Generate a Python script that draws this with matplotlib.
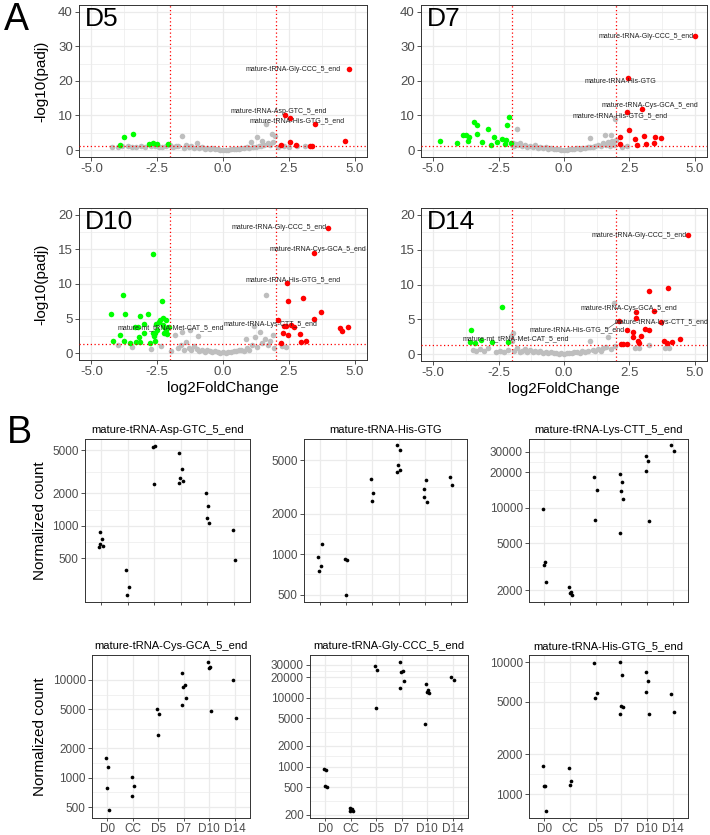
"""
Panel A: volcano plots (D5, D7, D10, D14)
Panel B: normalized counts of selected tRNA fragments per time point
"""
import matplotlib
matplotlib.use("Agg")
import matplotlib.pyplot as plt
import numpy as np

plt.rcParams["font.family"] = ["Liberation Sans", "DejaVu Sans"]
plt.rcParams["axes.unicode_minus"] = False

W, H = 710, 835

# ---------------- panel A data (log2FoldChange, -log10(padj)) ----------------
D5_GREY = [(-4.2, 1.0), (-4.0, 0.9), (-3.85, 1.2), (-3.6, 1.1), (-3.45, 0.8), (-3.3, 1.0),
           (-3.1, 1.2), (-2.95, 0.9), (-2.75, 1.1), (-2.6, 1.3), (-2.45, 1.0), (-2.3, 0.8),
           (-2.15, 1.1), (-2.0, 1.4), (-1.9, 1.0), (-1.8, 1.3), (-1.7, 1.1), (-1.56, 4.0),
           (-1.5, 0.7), (-1.4, 1.6), (-1.3, 0.9), (-1.2, 1.1), (-1.1, 0.6), (-1.0, 1.9),
           (-0.9, 0.5), (-0.8, 0.8), (-0.7, 0.4), (-0.6, 0.6), (-0.5, 0.3), (-0.4, 0.5),
           (-0.3, 0.2), (-0.2, 0.3), (-0.1, 0.1), (0.0, 0.05), (0.1, 0.15), (0.2, 0.1),
           (0.3, 0.3), (0.4, 0.2), (0.5, 0.4), (0.6, 0.3), (0.7, 0.6), (0.8, 0.5),
           (0.9, 0.8), (1.0, 0.7), (1.08, 2.4), (1.15, 1.0), (1.25, 0.9), (1.29, 3.8),
           (1.35, 1.3), (1.45, 1.1), (1.48, 2.7), (1.55, 1.6), (1.65, 7.4), (1.7, 2.0),
           (1.8, 1.4), (1.86, 4.5), (1.9, 2.2), (1.96, 4.1), (2.1, 0.9), (2.3, 1.2),
           (2.5, 0.8), (2.8, 1.1), (3.1, 1.2)]
D5_GREEN = [(-3.92, 1.44), (-3.76, 3.84), (-3.43, 4.7), (-2.81, 1.82), (-2.67, 1.92),
            (-2.52, 1.82), (-2.10, 1.82)]
D5_RED = [(4.78, 23.3), (2.37, 10.1), (2.56, 9.4), (3.48, 7.4), (4.65, 2.6), (2.56, 2.4),
          (2.20, 1.6), (2.77, 1.4), (3.32, 1.3), (3.38, 1.25)]
D5_LABELS = [("mature-tRNA-Gly-CCC_5_end", 2.68, 23.3),
             ("mature-tRNA-Asp-GTC_5_end", 2.10, 11.0),
             ("mature-tRNA-His-GTG_5_end", 2.81, 8.35)]

D7_GREY = [(-2.0, 1.5), (-1.95, 2.1), (-1.9, 1.2), (-1.85, 1.8), (-1.78, 6.1), (-1.75, 1.4),
           (-1.7, 2.0), (-1.6, 1.1), (-1.5, 1.6), (-1.4, 0.9), (-1.3, 1.3), (-1.2, 0.8),
           (-1.1, 1.4), (-1.0, 0.7), (-0.9, 1.0), (-0.8, 0.5), (-0.7, 0.8), (-0.6, 0.4),
           (-0.5, 0.6), (-0.4, 0.3), (-0.3, 0.2), (-0.2, 0.35), (-0.1, 0.1), (0.0, 0.15),
           (0.1, 0.05), (0.2, 0.2), (0.3, 0.3), (0.4, 0.25), (0.5, 0.5), (0.6, 0.4),
           (0.7, 0.7), (0.8, 0.6), (0.9, 0.9), (0.99, 3.4), (1.0, 1.0), (1.1, 0.8),
           (1.2, 1.2), (1.3, 1.4), (1.4, 1.1), (1.5, 2.0), (1.55, 4.3), (1.6, 1.6),
           (1.7, 2.3), (1.75, 1.2), (1.81, 4.3), (1.85, 2.6), (1.9, 1.5), (1.94, 9.1),
           (1.97, 3.0), (2.2, 0.9), (2.4, 1.1)]
D7_GREEN = [(-4.74, 2.69), (-4.10, 1.92), (-3.86, 4.32), (-3.73, 4.41), (-3.64, 3.65),
            (-3.67, 2.49), (-3.43, 8.25), (-3.32, 7.29), (-3.32, 4.51), (-3.15, 2.21),
            (-2.90, 6.04), (-2.78, 1.53), (-2.68, 3.65), (-2.57, 2.40), (-2.36, 3.26),
            (-2.23, 2.88), (-2.25, 1.73), (-2.17, 7.10), (-2.11, 9.69), (-2.04, 1.92)]
D7_RED = [(5.0, 32.9), (2.45, 20.9), (2.98, 11.9), (2.41, 11.0), (2.47, 5.76), (2.14, 3.65),
          (2.73, 3.17), (3.06, 4.03), (3.49, 3.84), (3.72, 3.55), (2.14, 1.73), (2.80, 1.53),
          (3.15, 1.63), (3.43, 1.92)]
D7_LABELS = [("mature-tRNA-Gly-CCC_5_end", 3.15, 32.8),
             ("mature-tRNA-His-GTG", 2.15, 19.9),
             ("mature-tRNA-Cys-GCA_5_end", 3.27, 12.85),
             ("mature-tRNA-His-GTG_5_end", 2.14, 9.9)]

D10_GREY = [(-4.0, 1.24), (-3.46, 0.81), (-2.72, 0.62), (-2.34, 1.05), (-1.97, 0.24),
            (-1.81, 2.63), (-1.7, 0.8), (-1.56, 3.0), (-1.6, 1.2), (-1.5, 0.5), (-1.4, 1.6),
            (-1.27, 3.35), (-1.3, 0.7), (-1.2, 0.4), (-1.1, 1.0), (-1.0, 0.6), (-0.96, 2.44),
            (-0.9, 0.3), (-0.8, 0.5), (-0.7, 0.2), (-0.6, 0.4), (-0.5, 0.3), (-0.4, 0.15),
            (-0.3, 0.25), (-0.2, 0.1), (-0.1, 0.05), (0.0, 0.1), (0.1, 0.05), (0.2, 0.2),
            (0.3, 0.15), (0.4, 0.3), (0.5, 0.25), (0.6, 0.4), (0.7, 0.5), (0.8, 0.35),
            (0.87, 2.0), (0.9, 0.7), (1.0, 0.5), (1.1, 1.2), (1.16, 3.92), (1.23, 2.4),
            (1.3, 0.9), (1.42, 3.06), (1.5, 1.5), (1.61, 2.0), (1.65, 8.42), (1.7, 1.1),
            (1.8, 1.8), (1.9, 2.63), (1.95, 0.8), (2.24, 0.96), (2.39, 0.86)]
D10_GREEN = [(-2.67, 14.31), (-3.80, 8.37), (-2.32, 7.61), (-4.24, 5.69), (-3.72, 5.69),
             (-3.15, 5.36), (-2.84, 5.65), (-3.01, 4.21), (-3.34, 3.78), (-3.22, 3.73),
             (-3.90, 2.58), (-4.19, 1.82), (-3.75, 1.82), (-3.52, 1.44), (-3.32, 1.67),
             (-3.14, 1.67), (-3.18, 2.39), (-2.99, 2.92), (-2.77, 1.53), (-2.59, 1.82),
             (-2.63, 2.49), (-2.66, 2.87), (-2.57, 2.87), (-2.51, 3.35), (-2.44, 4.55),
             (-2.38, 4.78), (-2.29, 5.02), (-2.16, 4.78), (-2.25, 3.73), (-2.16, 3.35),
             (-2.06, 3.83), (-2.25, 2.97), (-2.13, 2.78), (-2.28, 4.07), (-2.54, 4.16)]
D10_RED = [(3.97, 18.13), (3.46, 14.5), (2.43, 10.19), (2.46, 7.6), (3.05, 8.04), (3.72, 5.93),
           (2.09, 4.78), (3.44, 4.88), (2.30, 3.88), (2.41, 3.88), (2.59, 4.07), (2.68, 3.73),
           (2.28, 2.92), (2.46, 2.58), (2.91, 2.73), (2.97, 1.63), (3.15, 1.72), (2.22, 1.48),
           (4.46, 3.59), (4.51, 3.2), (4.75, 3.78)]
D10_LABELS = [("mature-tRNA-Gly-CCC_5_end", 2.14, 18.13),
              ("mature-tRNA-Cys-GCA_5_end", 3.62, 15.0),
              ("mature-tRNA-His-GTG_5_end", 2.68, 10.67),
              ("mature-mt_tRNA-Met-CAT_5_end", -2.0, 3.64),
              ("mature-tRNA-Lys-CTT_5_end", 1.82, 4.16)]

D14_GREY = [(-3.5, 0.6), (-3.35, 0.4), (-3.2, 0.7), (-3.05, 0.5), (-2.9, 0.9), (-2.6, 0.3),
            (-2.45, 0.5), (-2.3, 0.35), (-2.15, 0.6), (-2.0, 1.9), (-2.01, 2.6), (-1.95, 2.96),
            (-1.9, 0.4), (-1.8, 0.9), (-1.7, 0.3), (-1.6, 0.5), (-1.5, 0.7), (-1.4, 0.35),
            (-1.3, 0.6), (-1.2, 0.25), (-1.1, 0.45), (-1.0, 0.3), (-0.9, 0.5), (-0.8, 0.2),
            (-0.7, 0.35), (-0.6, 0.15), (-0.5, 0.3), (-0.4, 0.1), (-0.3, 0.2), (-0.2, 0.05),
            (-0.1, 0.15), (0.0, 0.05), (0.1, 0.1), (0.2, 0.2), (0.3, 0.1), (0.4, 0.25),
            (0.5, 0.3), (0.6, 0.2), (0.7, 0.4), (0.8, 0.3), (0.9, 0.5), (1.01, 1.82),
            (1.1, 0.6), (1.2, 0.4), (1.3, 0.7), (1.4, 0.5), (1.5, 0.8), (1.6, 1.0),
            (1.68, 2.4), (1.8, 0.7), (1.92, 7.37), (1.95, 1.2), (2.7, 0.8), (2.85, 0.9),
            (3.27, 1.3), (3.85, 0.9), (4.0, 0.8)]
D14_GREEN = [(-2.37, 6.70), (-3.54, 3.44), (-3.59, 1.72), (-3.41, 1.53), (-3.16, 1.96),
             (-2.74, 1.67), (-2.14, 1.67)]
D14_RED = [(4.74, 17.18), (3.97, 9.43), (3.25, 9.0), (2.75, 6.03), (3.43, 6.22), (2.75, 5.17),
           (2.09, 4.78), (3.72, 4.55), (2.42, 3.44), (2.64, 3.11), (2.65, 2.49), (3.11, 3.59),
           (3.27, 3.44), (2.96, 2.54), (2.83, 1.91), (2.87, 1.58), (2.19, 1.44), (2.25, 1.44),
           (2.42, 1.44), (3.81, 1.82), (3.94, 1.53), (4.14, 1.77), (4.45, 2.15)]
D14_LABELS = [("mature-tRNA-Gly-CCC_5_end", 2.89, 17.1),
              ("mature-tRNA-Cys-GCA_5_end", 2.48, 6.5),
              ("mature-tRNA-Lys-CTT_5_end", 3.72, 4.55),
              ("mature-tRNA-His-GTG_5_end", 0.51, 3.49),
              ("mature-mt_tRNA-Met-CAT_5_end", -1.86, 2.2)]

# ---------------- panel B data (normalized counts) ----------------
GROUPS = ["D0", "CC", "D5", "D7", "D10", "D14"]

ASP_GTC = [[878, 751, 684, 656, 632], [390, 271, 228], [5400, 5520, 2433],
           [4754, 3330, 2767, 2613, 2468], [2022, 1521, 1193, 1064], [916, 482]]
HIS_GTG = [[950, 818, 751, 1181], [928, 902, 495], [3606, 2870, 2486],
           [6470, 5900, 4615, 4210, 4090], [3055, 3585, 2680, 2444], [3755, 3254]]
LYS_CTT = [[9740, 3441, 3246, 2340], [2134, 1930, 1880, 1830], [18120, 14050, 7950],
           [19350, 16640, 13870, 12000, 6160], [27350, 25000, 20660, 7800], [33970, 30400]]
CYS_GCA = [[1604, 1288, 781, 462], [1019, 812, 652], [4984, 4500, 2751],
           [11780, 8900, 8360, 6500, 5560], [15240, 13460, 13150, 4757], [10070, 4066]]
GLY_CCC = [[920, 900, 515, 500], [252, 240, 230, 225], [28660, 25360, 7000],
           [33100, 24800, 23700, 17780, 13770], [16080, 12880, 12190, 11600, 4100], [20320, 17970]]
HIS_GTG_5 = [[1645, 1149, 1155, 749], [1580, 1253, 1176], [9830, 5810, 5320],
             [10000, 7930, 4660, 4550, 4010], [8410, 7230, 5910, 4010], [5770, 4175]]

JITTER = [-0.05, 0.04, -0.02, 0.07, -0.07, 0.02]

GRID = "#EBEBEB"
BORDER = "#333333"
TICKTXT = "#4D4D4D"


def px_axes(fig, left, top, right, bottom):
    return fig.add_axes([left / W, 1 - bottom / H, (right - left) / W, (bottom - top) / H])


def style_axes(ax):
    ax.set_axisbelow(True)
    ax.grid(True, which="major", color=GRID, linewidth=0.9)
    ax.grid(True, which="minor", color=GRID, linewidth=0.5)
    for sp in ax.spines.values():
        sp.set_color(BORDER)
        sp.set_linewidth(0.7)
    ax.tick_params(which="major", length=3, width=0.6, color=BORDER, labelcolor=TICKTXT, pad=1.5)
    ax.tick_params(which="minor", length=0)


def draw_volcano(ax, tag, grey, green, red, labels, ylim, yticks, segments=()):
    for pts, col in ((grey, "#BEBEBE"), (green, "#00FF00"), (red, "#FF0000")):
        arr = np.array(pts)
        ax.scatter(arr[:, 0], arr[:, 1], s=16, color=col, linewidths=0, zorder=2)
    ax.axvline(-2, color="red", linestyle=(0, (1, 2)), linewidth=0.9, zorder=3)
    ax.axvline(2, color="red", linestyle=(0, (1, 2)), linewidth=0.9, zorder=3)
    ax.axhline(-np.log10(0.05), color="red", linestyle=(0, (1, 2)), linewidth=0.9, zorder=3)
    for (x0, y0, x1, y1) in segments:
        ax.plot([x0, x1], [y0, y1], color="#444444", linewidth=0.4, zorder=3)
    for txt, x, y in labels:
        ax.text(x, y, txt, fontsize=5, ha="center", va="center", color="#222222", zorder=4)
    ax.text(0.02, 0.985, tag, transform=ax.transAxes, fontsize=19, ha="left", va="top")
    ax.set_xlim(-5.47, 5.47)
    ax.set_ylim(*ylim)
    ax.set_xticks([-5.0, -2.5, 0.0, 2.5, 5.0])
    ax.set_xticklabels(["-5.0", "-2.5", "0.0", "2.5", "5.0"])
    ax.set_xticks([-3.75, -1.25, 1.25, 3.75], minor=True)
    ax.set_yticks(yticks)
    step = yticks[1] - yticks[0]
    ax.set_yticks([t + step / 2 for t in yticks[:-1]], minor=True)
    style_axes(ax)
    ax.tick_params(labelsize=9.5)


def draw_counts(ax, title, values, ylim, yticks, show_x):
    for i, grp in enumerate(values):
        xs = [i + 1 + JITTER[j % len(JITTER)] for j in range(len(grp))]
        ax.scatter(xs, grp, s=7, color="black", linewidths=0, zorder=3)
    ax.set_yscale("log")
    ax.set_ylim(*ylim)
    ax.set_xlim(0.4, 6.6)
    ax.set_xticks(range(1, len(GROUPS) + 1))
    ax.set_xticklabels(GROUPS if show_x else [])
    ax.set_yticks(yticks)
    ax.set_yticklabels([str(t) for t in yticks])
    minors = [np.sqrt(a * b) for a, b in zip(yticks[:-1], yticks[1:])]
    ax.set_yticks(minors, minor=True)
    ax.yaxis.set_minor_formatter(matplotlib.ticker.NullFormatter())
    style_axes(ax)
    ax.tick_params(labelsize=8.5)
    ax.tick_params(axis="x", length=2.5, pad=1, labelsize=8.5)
    ax.set_title(title, fontsize=8, pad=4)


fig = plt.figure(figsize=(W / 100, H / 100), dpi=100)

# ---- A ----
ax5 = px_axes(fig, 79, 5, 367, 157)
draw_volcano(ax5, "D5", D5_GREY, D5_GREEN, D5_RED, D5_LABELS, (-2, 41.9), [0, 10, 20, 30, 40])
ax5.set_ylabel("-log10(padj)", fontsize=11)
ax5.yaxis.set_label_coords(-0.105, 0.5)

ax7 = px_axes(fig, 421, 5, 707, 157)
draw_volcano(ax7, "D7", D7_GREY, D7_GREEN, D7_RED, D7_LABELS, (-2, 41.9), [0, 10, 20, 30, 40])

ax10 = px_axes(fig, 79, 208, 367, 360)
draw_volcano(ax10, "D10", D10_GREY, D10_GREEN, D10_RED, D10_LABELS, (-1, 21), [0, 5, 10, 15, 20])
ax10.set_ylabel("-log10(padj)", fontsize=11)
ax10.yaxis.set_label_coords(-0.105, 0.5)
ax10.set_xlabel("log2FoldChange", fontsize=11, labelpad=2)

ax14 = px_axes(fig, 421, 208, 707, 361)
draw_volcano(ax14, "D14", D14_GREY, D14_GREEN, D14_RED, D14_LABELS, (-1, 21), [0, 5, 10, 15, 20],
             segments=[(1.65, 3.6, 2.09, 4.78), (2.3, 4.55, 2.09, 4.78), (2.7, 5.9, 2.75, 6.03)])
ax14.set_xlabel("log2FoldChange", fontsize=11, labelpad=2)

# ---- B ----
b1 = px_axes(fig, 85, 439, 250, 602)
draw_counts(b1, "mature-tRNA-Asp-GTC_5_end", ASP_GTC, (198, 6360), [500, 1000, 2000, 5000], False)
b1.set_ylabel("Normalized count", fontsize=11)
b1.yaxis.set_label_coords(-0.23, 0.5)

b2 = px_axes(fig, 304, 439, 467, 602)
draw_counts(b2, "mature-tRNA-His-GTG", HIS_GTG, (441, 7170), [500, 1000, 2000, 5000], False)

b3 = px_axes(fig, 529, 439, 688, 602)
draw_counts(b3, "mature-tRNA-Lys-CTT_5_end", LYS_CTT, (1590, 38400),
            [2000, 5000, 10000, 20000, 30000], False)

b4 = px_axes(fig, 92, 655, 250, 818)
draw_counts(b4, "mature-tRNA-Cys-GCA_5_end", CYS_GCA, (386, 17960),
            [500, 1000, 2000, 5000, 10000], True)
b4.set_ylabel("Normalized count", fontsize=11)
b4.yaxis.set_label_coords(-0.285, 0.5)

b5 = px_axes(fig, 310, 655, 468, 818)
draw_counts(b5, "mature-tRNA-Gly-CCC_5_end", GLY_CCC, (179, 41800),
            [200, 500, 1000, 2000, 5000, 10000, 20000, 30000], True)

b6 = px_axes(fig, 529, 655, 688, 818)
draw_counts(b6, "mature-tRNA-His-GTG_5_end", HIS_GTG_5, (659, 11300),
            [1000, 2000, 5000, 10000], True)

fig.text(4 / W, 1 - 2 / H, "A", fontsize=27, ha="left", va="top")
fig.text(7 / W, 1 - 415 / H, "B", fontsize=27, ha="left", va="top")

fig.savefig("out.png", dpi=100)
plt.close(fig)
